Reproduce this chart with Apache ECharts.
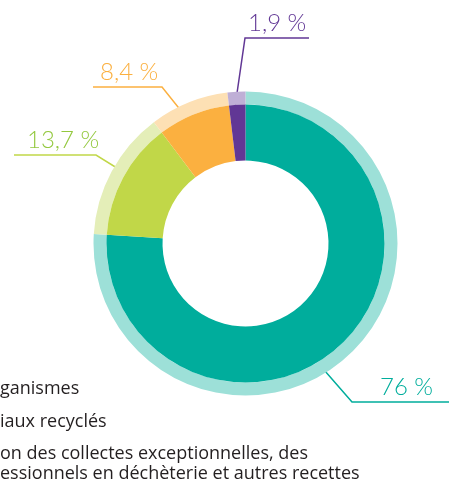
<!DOCTYPE html>
<html>
<head>
<meta charset="utf-8">
<script src="https://cdn.jsdelivr.net/npm/echarts@6/dist/echarts.min.js"></script>
<style>
    html, body {margin: 0; padding: 0; background: #fff;}
    #main {width: 449px; height: 501px;}
</style>
</head>
<body>
<div id="main"></div>
<script>
    // parts of the budget, in %
    var names = ['Soutiens des éco-organismes', 'Vente des matériaux recyclés', 'Autres recettes', 'Autres'];
    var values = [76, 13.7, 8.4, 1.9];
    var labels = ['76 %', '13,7 %', '8,4 %', '1,9 %'];
    var darkColors = ['#00ad9c', '#c1d748', '#fbb040', '#613795'];
    var lightColors = ['#9de0d8', '#e4eeb8', '#fde0b4', '#bfafd6'];
    var labelColors = ['#00ad9c', '#93c83e', '#fbb040', '#613795'];
    var lineColors = ['#00ad9c', '#c1d748', '#fbb040', '#613795'];
    var legendLines = ['ganismes', 'iaux recyclés', 'on des collectes exceptionnelles, des', 'essionnels en déchèterie et autres recettes'];

    // where each label sits and how its leader line runs
    var spots = [
        {x: 380, y: 399, line: [[318, 363], [352, 402], [449, 402]]},
        {x: 27, y: 152, line: [[125, 173], [96, 155], [14, 155]]},
        {x: 100, y: 84, line: [[186, 117], [162, 87], [93, 87]]},
        {x: 248, y: 35, line: [[235, 107], [245, 38], [309, 38]]}
    ];

    var chart = echarts.init(document.getElementById('main'));
    var center = [245.5, 243.5];

    chart.setOption({
        animation: false,
        series: [
            {
                type: 'pie',
                center: center,
                radius: [139, 152],
                silent: true,
                label: {show: false},
                labelLine: {show: false},
                data: values.map(function (v, i) {
                    return {name: names[i], value: v, itemStyle: {color: lightColors[i]}};
                })
            },
            {
                type: 'pie',
                center: center,
                radius: [83, 139],
                silent: true,
                label: {
                    show: true,
                    position: 'outside',
                    fontFamily: 'Lato',
                    fontWeight: 300,
                    fontSize: 24,
                    width: 90,
                    overflow: 'none',
                    formatter: function (p) { return labels[p.dataIndex]; }
                },
                labelLine: {show: true, length: 20, length2: 30, lineStyle: {width: 1.5}},
                labelLayout: function (p) {
                    var s = spots[p.dataIndex];
                    return {x: s.x, y: s.y, align: 'left', verticalAlign: 'bottom', labelLinePoints: s.line};
                },
                data: values.map(function (v, i) {
                    return {
                        name: names[i], value: v,
                        itemStyle: {color: darkColors[i]},
                        label: {color: labelColors[i]},
                        labelLine: {lineStyle: {color: lineColors[i]}}
                    };
                })
            }
        ],
        graphic: legendLines.map(function (t, i) {
            return {
                type: 'text',
                left: 0,
                top: [380, 413, 445, 465][i],
                style: {text: t, fontFamily: 'Open Sans', fontSize: 18, fill: '#231f20'}
            };
        })
    });
</script>
</body>
</html>
